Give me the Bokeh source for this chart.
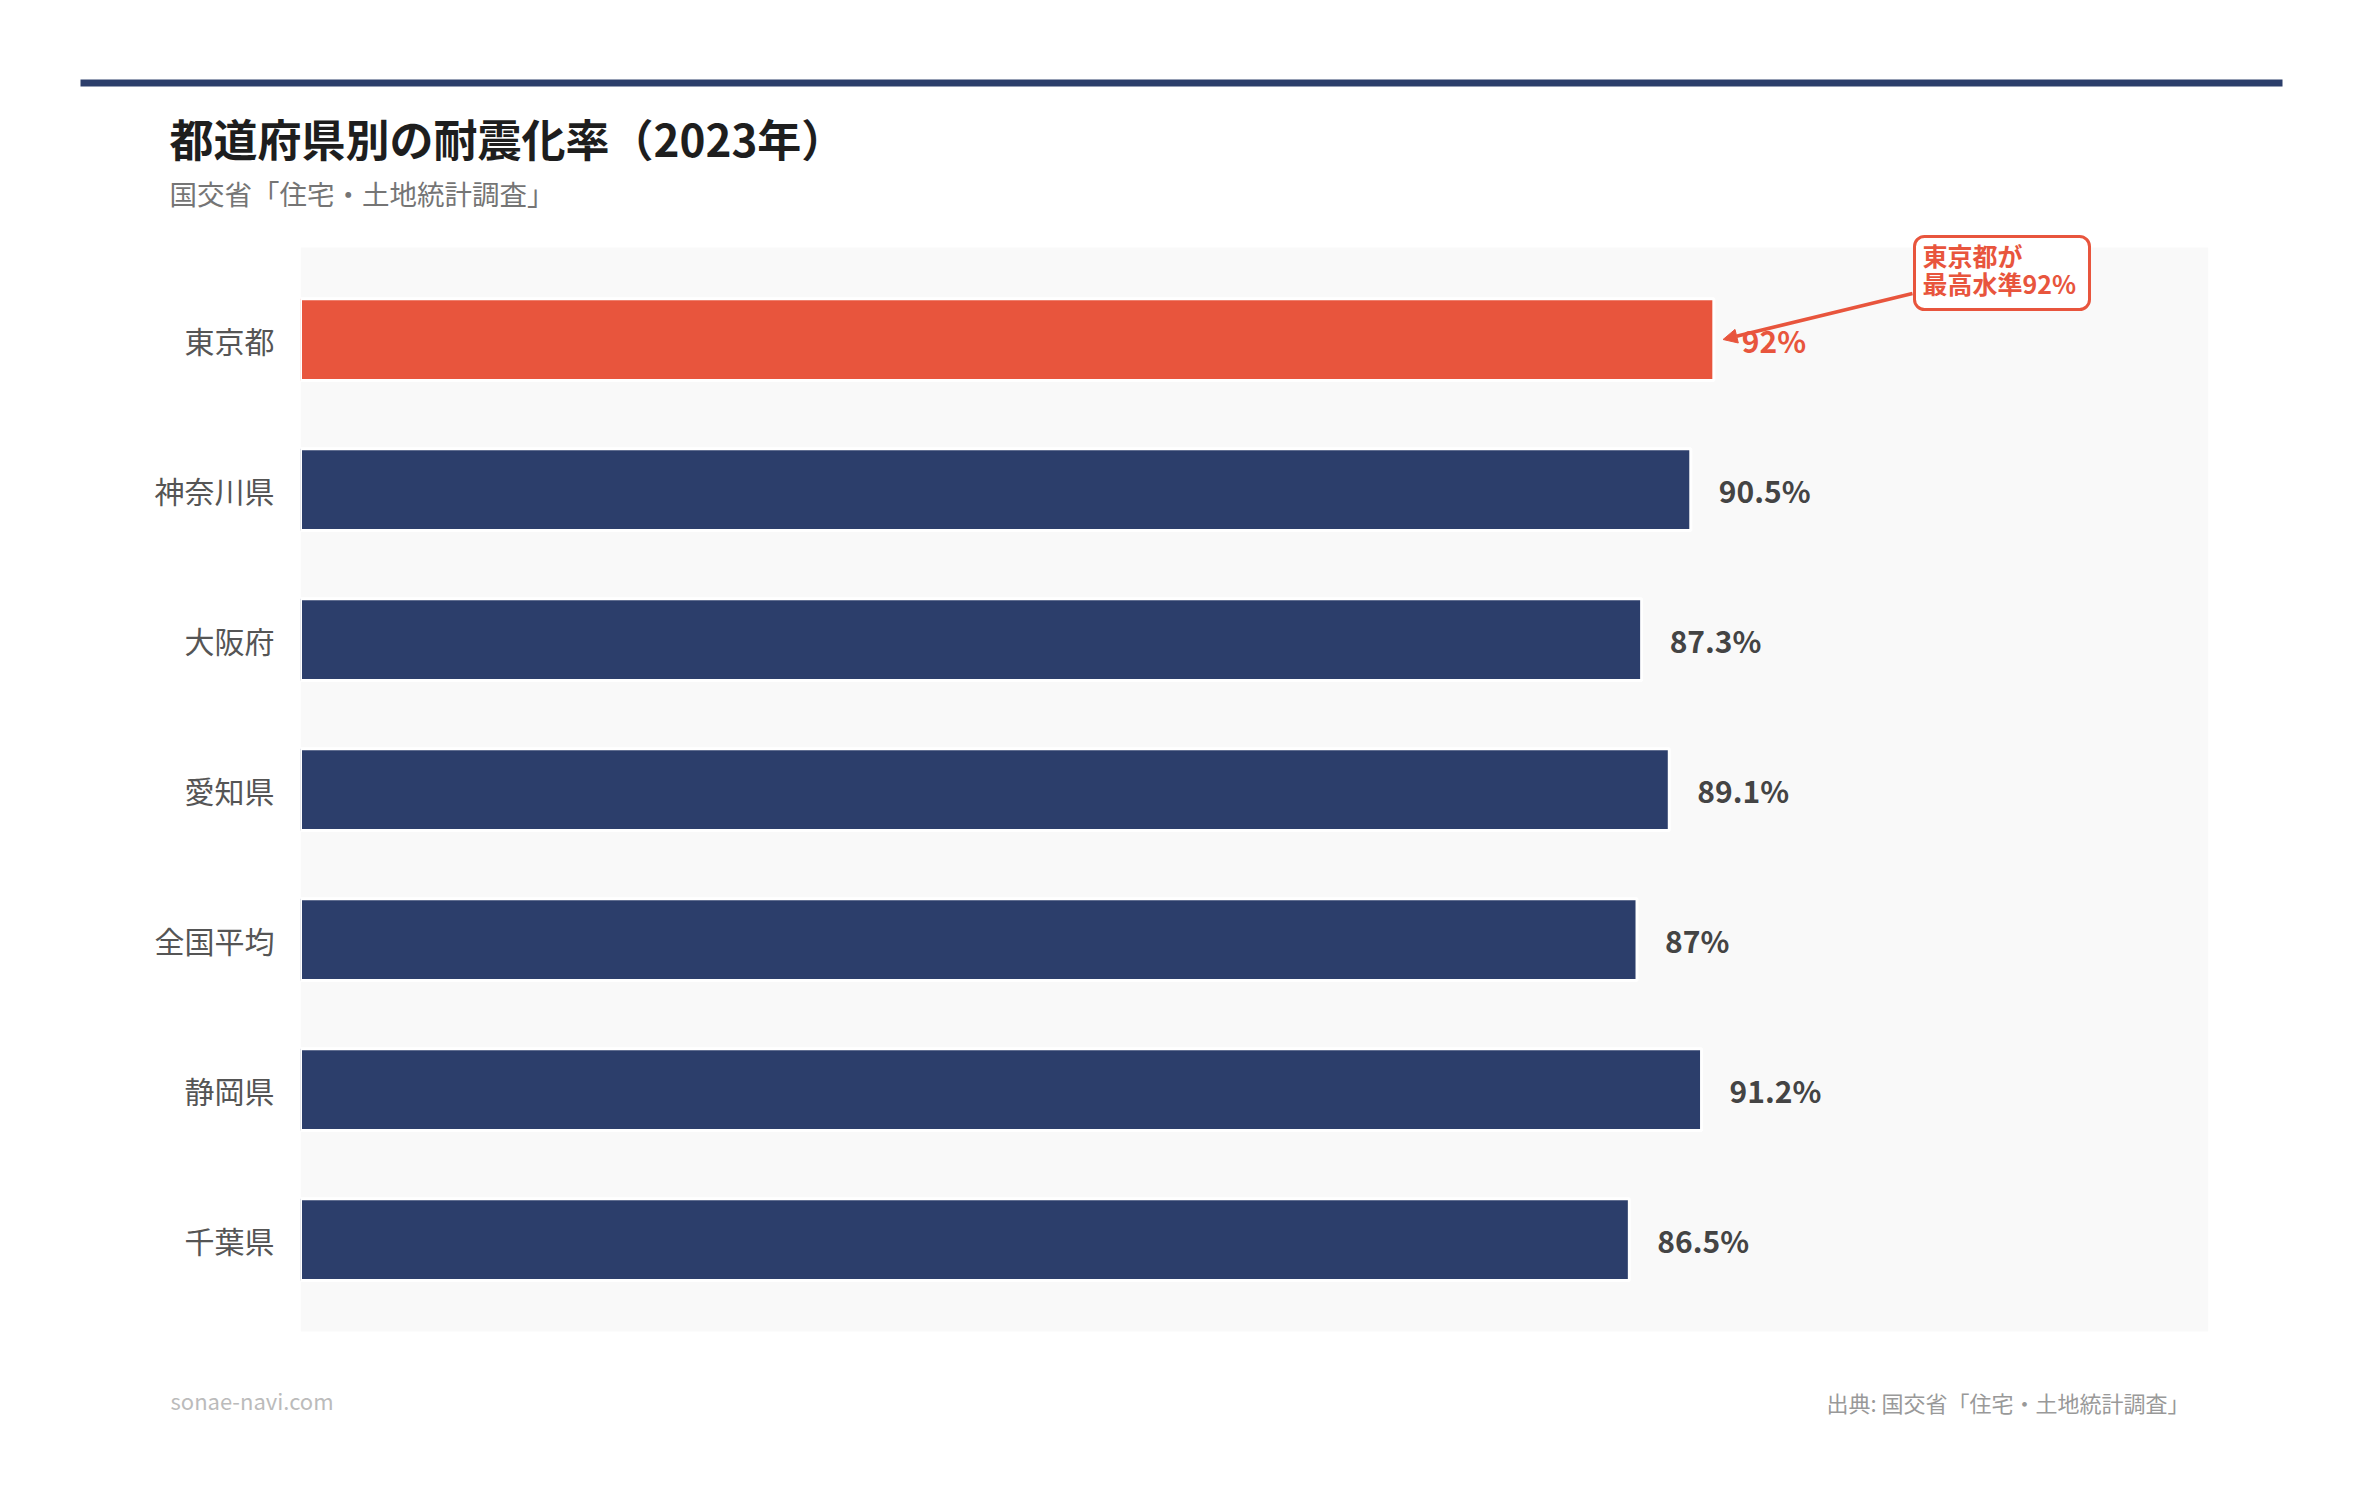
from bokeh.plotting import figure
from bokeh.layouts import column
from bokeh.models import ColumnDataSource, FactorRange, Range1d, Label, Arrow, NormalHead, BoxAnnotation
from bokeh.embed import file_html
from bokeh.resources import INLINE
from bokeh.core.properties import value

# ---------------- data ----------------
categories = ["東京都", "神奈川県", "大阪府", "愛知県", "全国平均", "静岡県", "千葉県"]
rates = [92, 90.5, 87.3, 89.1, 87, 91.2, 86.5]
rate_labels = ["92%", "90.5%", "87.3%", "89.1%", "87%", "91.2%", "86.5%"]
highlight = "東京都"

title_text = "都道府県別の耐震化率（2023年）"
subtitle_text = "国交省「住宅・土地統計調査」"
callout_text = "東京都が\n最高水準92%"
site_text = "sonae-navi.com"
source_text = "出典: 国交省「住宅・土地統計調査」"

# ---------------- style / layout ----------------
FONT = "Noto Sans CJK JP"
NAVY = "#2c3e6b"
RED = "#e8553d"
W = 2344
HEAD_H = 225
MAIN_H = 1128
FOOT_H = 125
PAD = 0.26        # factor-range padding per side (frame)
GREY_IN = 0.147   # grey panel inset from frame edge (in band units)


def blank(h):
    f = figure(width=W, height=h, output_backend="svg", toolbar_location=None,
               title=None, x_range=Range1d(0, W), y_range=Range1d(h, 0),
               x_axis_location=None, y_axis_location=None,
               min_border=0, outline_line_color=None,
               background_fill_color="white", border_fill_color="white",
               frame_align=False)
    f.xgrid.grid_line_color = None
    f.ygrid.grid_line_color = None
    return f


# ---------------- header ----------------
head = blank(HEAD_H)
head.add_layout(BoxAnnotation(left=80, right=2282, top=79, bottom=86,
                              left_units="canvas", right_units="canvas",
                              top_units="canvas", bottom_units="canvas",
                              fill_color=NAVY, fill_alpha=1, line_color=None))
head.add_layout(Label(x=169, y=137, x_units="canvas", y_units="canvas", text=title_text,
                      text_font=FONT, text_font_size="44px", text_font_style="bold",
                      text_color="#1e1e1e", text_baseline="middle", text_align="left"))
head.add_layout(Label(x=169, y=192, x_units="canvas", y_units="canvas", text=subtitle_text,
                      text_font=FONT, text_font_size="27.5px",
                      text_color="#757575", text_baseline="middle", text_align="left"))

# ---------------- main chart ----------------
bar_colors = [RED if c == highlight else NAVY for c in categories]
label_colors = [RED if c == highlight else "#444444" for c in categories]
src = ColumnDataSource(dict(cat=categories, val=rates, txt=rate_labels,
                            bc=bar_colors, lc=label_colors))

p = figure(width=W, height=MAIN_H, output_backend="svg", toolbar_location=None,
           title=None,
           y_range=FactorRange(factors=list(reversed(categories)),
                               range_padding=PAD, range_padding_units="absolute"),
           x_range=Range1d(0, max(rates) * 1.35),
           x_axis_location=None,
           min_border_left=300, min_border_right=136,
           min_border_top=0, min_border_bottom=0,
           background_fill_color="white", border_fill_color="white",
           outline_line_color=None)

n = len(categories)
p.add_layout(BoxAnnotation(bottom=-PAD + GREY_IN, top=n + PAD - GREY_IN,
                           fill_color="#f9f9f9", fill_alpha=1, line_color=None,
                           level="underlay"))

p.hbar(y="cat", right="val", left=0, height=0.545, source=src,
       fill_color="bc", line_color="white", line_width=3)

p.text(x="val", y="cat", text="txt", source=src, x_offset=28,
       text_color="lc", text_font=value(FONT), text_font_size="30px",
       text_font_style="bold", text_baseline="middle", text_align="left")

p.xgrid.grid_line_color = None
p.ygrid.grid_line_color = None
ax = p.yaxis[0]
ax.axis_line_color = None
ax.major_tick_line_color = None
ax.minor_tick_line_color = None
ax.major_tick_out = 0
ax.major_tick_in = 0
ax.major_label_standoff = 26
ax.major_label_text_font = FONT
ax.major_label_text_font_size = "30px"
ax.major_label_text_color = "#555555"

# callout (canvas coords of main figure)
hi = categories.index(highlight)
hi_y = n - hi - 0.5
p.add_layout(Arrow(start_units="canvas", end_units="data",
                   x_start=1912, y_start=293 - HEAD_H, x_end=rates[hi] + 0.6, y_end=hi_y,
                   line_color=RED, line_width=3.5,
                   end=NormalHead(size=14, fill_color=RED, line_color=RED)))
p.add_layout(BoxAnnotation(left=1914, right=2089, top=236 - HEAD_H, bottom=309 - HEAD_H,
                           left_units="canvas", right_units="canvas",
                           top_units="canvas", bottom_units="canvas",
                           fill_color="white", fill_alpha=1,
                           line_color=RED, line_alpha=1, line_width=3, border_radius=10))
p.add_layout(Label(x=1922, y=236 - HEAD_H, x_units="canvas", y_units="canvas",
                   text=callout_text,
                   text_font=FONT, text_font_size="25px", text_font_style="bold",
                   text_color=RED, text_baseline="top", text_align="left",
                   text_line_height=0.8))

# ---------------- footer ----------------
foot = blank(FOOT_H)
foot.add_layout(Label(x=170, y=1399 - HEAD_H - MAIN_H, x_units="canvas", y_units="canvas",
                      text=site_text, text_font=FONT, text_font_size="22px",
                      text_color="#bbbbbb", text_baseline="middle", text_align="left"))
foot.add_layout(Label(x=2189, y=1401 - HEAD_H - MAIN_H, x_units="canvas", y_units="canvas",
                      text=source_text, text_font=FONT, text_font_size="22px",
                      text_color="#999999", text_baseline="middle", text_align="right"))

layout = column(head, p, foot, spacing=0)
open("out.html", "w").write(file_html(layout, INLINE))
